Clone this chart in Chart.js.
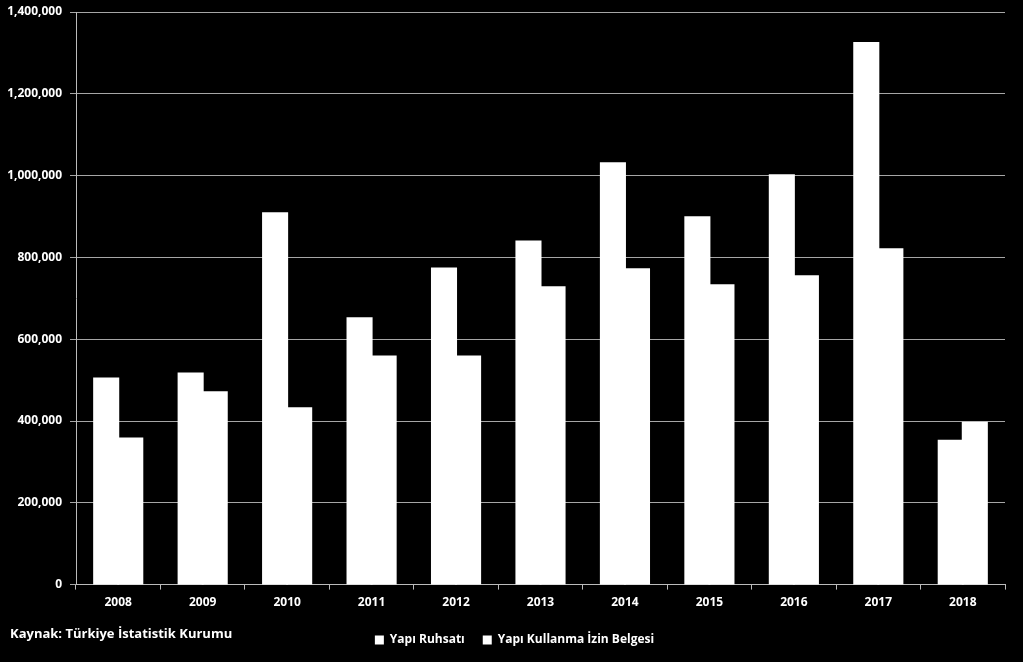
<!DOCTYPE html>
<html>
<head>
<meta charset="utf-8">
<script src="https://cdn.jsdelivr.net/npm/chart.js@4"></script>
<style>
    html, body { margin: 0; padding: 0; background: #000; }
    #wrap { position: relative; width: 1023px; height: 662px; }
    #source {
        position: absolute; left: 10px; top: 624px;
        color: #fff; font: bold 13px "Open Sans", sans-serif;
    }
</style>
</head>
<body>
<div id="wrap">
    <canvas id="chart" width="1023" height="662"></canvas>
    <div id="source">Kaynak: Türkiye İstatistik Kurumu</div>
</div>
<script>
const years = ["2008", "2009", "2010", "2011", "2012", "2013", "2014", "2015", "2016", "2017", "2018"];
const ruhsat = [504000, 516000, 908000, 651000, 773000, 839000, 1030000, 898000, 1001000, 1324000, 352000];
const iskan = [357000, 470000, 431000, 558000, 558000, 727000, 771000, 732000, 754000, 820000, 396000];
const seriesNames = ["Yapı Ruhsatı", "Yapı Kullanma İzin Belgesi"];

const tickFont = { family: "'Open Sans', sans-serif", size: 12, weight: "bold" };

// legend sits a bit right of the canvas centre in the original
const legendShift = {
    id: "legendShift",
    afterLayout(chart) {
        chart.legend.left += 12;
        chart.legend.right += 12;
    }
};

new Chart(document.getElementById("chart"), {
    type: "bar",
    data: {
        labels: years,
        datasets: [
            { label: seriesNames[0], data: ruhsat, backgroundColor: "#fff", borderWidth: 0, inflateAmount: 1 },
            { label: seriesNames[1], data: iskan, backgroundColor: "#fff", borderWidth: 0, inflateAmount: 1 }
        ]
    },
    options: {
        responsive: false,
        animation: false,
        layout: { padding: { top: 0, right: 18, left: 0, bottom: 6 } },
        datasets: { bar: { categoryPercentage: 0.57, barPercentage: 1.0 } },
        plugins: {
            tooltip: { enabled: false },
            legend: {
                position: "bottom",
                labels: {
                    color: "#fff",
                    font: { family: "'Open Sans', sans-serif", size: 12, weight: "bold" },
                    boxWidth: 9,
                    boxHeight: 9,
                    padding: 18
                }
            }
        },
        scales: {
            x: {
                offset: true,
                grid: { offset: true, drawOnChartArea: false, color: "#bbb", tickLength: 5 },
                border: { color: "#bbb" },
                ticks: { color: "#fff", font: tickFont, padding: 6 }
            },
            y: {
                min: 0,
                max: 1400000,
                afterFit: function (scale) {
                    scale.width = 76;
                    scale.paddingTop = 12;
                },
                grid: { color: "#a6a6a6", tickLength: 6 },
                border: { color: "#bbb" },
                ticks: {
                    stepSize: 200000,
                    color: "#fff",
                    font: tickFont,
                    padding: 8,
                    callback: v => v.toLocaleString("en-US")
                }
            }
        }
    },
    plugins: [legendShift]
});
</script>
</body>
</html>
